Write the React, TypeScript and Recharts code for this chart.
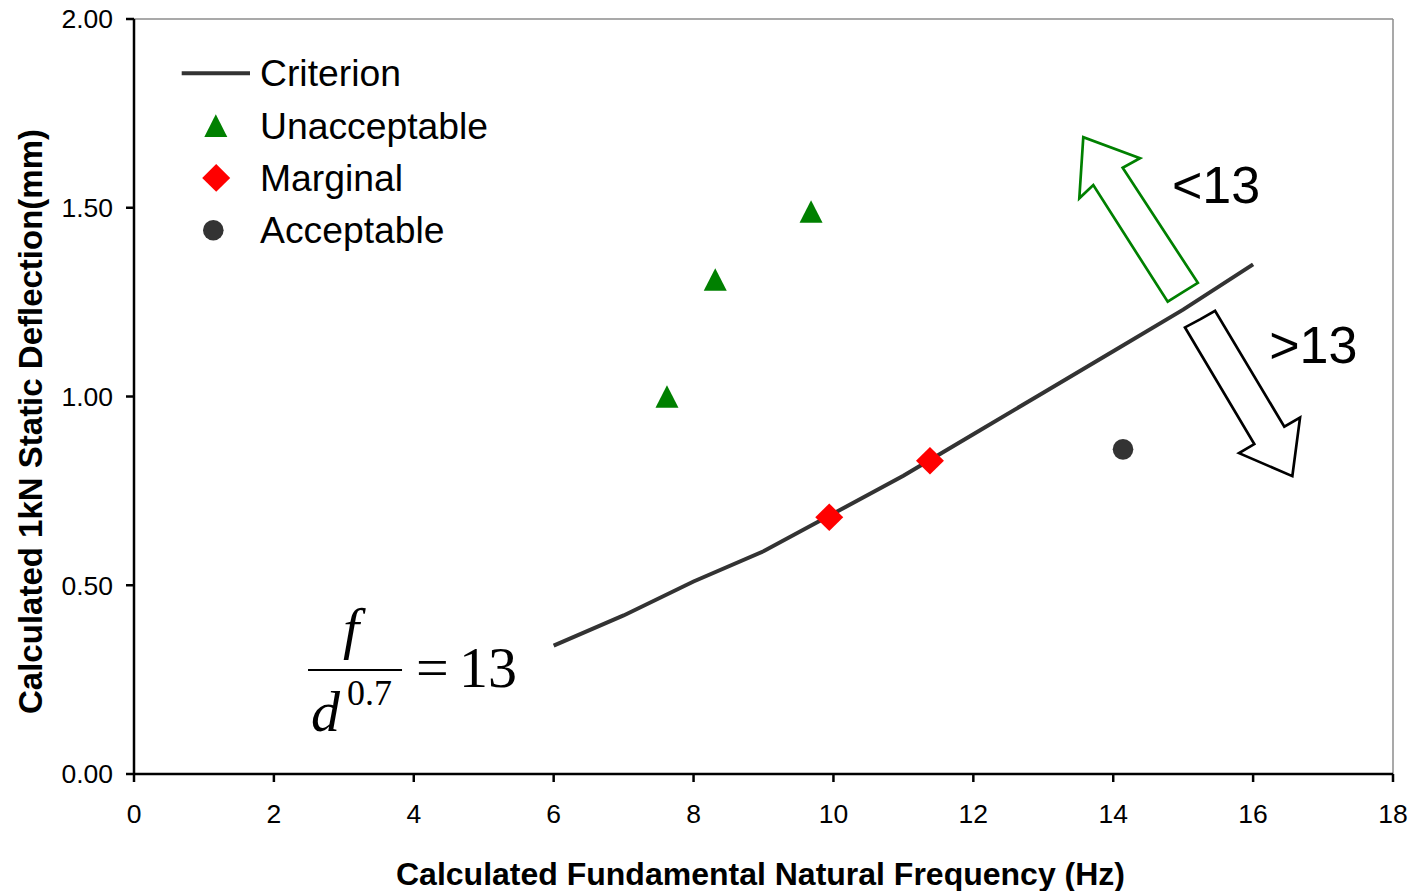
import React from 'react';
import {
  ComposedChart,
  Line,
  Scatter,
  XAxis,
  YAxis,
  ReferenceLine,
  ReferenceDot,
  Legend,
  Label,
} from 'recharts';

// ---------- data ----------
const xTicks = [0, 2, 4, 6, 8, 10, 12, 14, 16, 18];
const yTicks = [0, 0.5, 1.0, 1.5, 2.0];

const criterion = [
  { f: 6, d: 0.34 },
  { f: 7, d: 0.42 },
  { f: 8, d: 0.51 },
  { f: 9, d: 0.59 },
  { f: 10, d: 0.69 },
  { f: 11, d: 0.79 },
  { f: 12, d: 0.9 },
  { f: 13, d: 1.01 },
  { f: 14, d: 1.12 },
  { f: 15, d: 1.23 },
  { f: 16, d: 1.35 },
];

const unacceptable = [
  { f: 7.62, d: 1.0 },
  { f: 8.31, d: 1.31 },
  { f: 9.68, d: 1.49 },
];

const marginal = [
  { f: 9.94, d: 0.68 },
  { f: 11.38, d: 0.83 },
];

const acceptable = [{ f: 14.14, d: 0.86 }];

// outline arrows (annotation), vertices in data coordinates
const upArrow = [
  { f: 14.99, d: 1.276 },
  { f: 15.21, d: 1.301 },
  { f: 14.135, d: 1.606 },
  { f: 14.383, d: 1.631 },
  { f: 13.572, d: 1.687 },
  { f: 13.515, d: 1.525 },
  { f: 13.715, d: 1.56 },
  { f: 14.779, d: 1.251 },
  { f: 14.99, d: 1.276 },
];

const downArrow = [
  { f: 15.248, d: 1.205 },
  { f: 15.456, d: 1.227 },
  { f: 16.446, d: 0.92 },
  { f: 16.671, d: 0.944 },
  { f: 16.561, d: 0.789 },
  { f: 15.799, d: 0.85 },
  { f: 16.017, d: 0.874 },
  { f: 15.026, d: 1.183 },
  { f: 15.248, d: 1.205 },
];

const lessLabel = { f: 14.84, d: 1.513, text: '<13' };
const moreLabel = { f: 16.23, d: 1.089, text: '>13' };
const equationAnchor = { f: 3.16, d: 0.2755 };

const legendOrder = ['Criterion', 'Unacceptable', 'Marginal', 'Acceptable'];

// ---------- styles ----------
const SANS = '"Liberation Sans", Arial, Helvetica, sans-serif';
const SERIF = '"Liberation Serif", "Times New Roman", Times, serif';
const LINE_COLOR = '#333333';
const GREEN = '#008000';
const RED = '#ff0000';

// ---------- shapes ----------
const Triangle = (props: any) => {
  const { cx, cy, fill } = props;
  if (cx == null || cy == null) return null;
  return (
    <polygon
      points={`${cx},${cy - 11.3} ${cx + 11.5},${cy + 11.3} ${cx - 11.5},${cy + 11.3}`}
      fill={fill || GREEN}
    />
  );
};

const Diamond = (props: any) => {
  const { cx, cy, fill } = props;
  if (cx == null || cy == null) return null;
  return (
    <polygon
      points={`${cx},${cy - 13.8} ${cx + 14},${cy} ${cx},${cy + 13.8} ${cx - 14},${cy}`}
      fill={fill || RED}
    />
  );
};

const Dot = (props: any) => {
  const { cx, cy, fill } = props;
  if (cx == null || cy == null) return null;
  return <circle cx={cx} cy={cy} r={10.3} fill={fill || LINE_COLOR} />;
};

const LegendContent = (props: any) => {
  const payload: any[] = props.payload || [];
  const items = legendOrder
    .map((n) => payload.find((p) => p.value === n))
    .filter(Boolean);
  return (
    <svg width={330} height={215} style={{ display: 'block', overflow: 'visible' }}>
      {items.map((it: any, i: number) => {
        const cy = 28.3 + i * 52.3;
        let icon: any = null;
        if (it.value === 'Criterion') {
          icon = <line x1={11.7} x2={80} y1={cy} y2={cy} stroke={LINE_COLOR} strokeWidth={4} />;
        } else if (it.value === 'Unacceptable') {
          icon = <Triangle cx={45.8} cy={cy} fill={GREEN} />;
        } else if (it.value === 'Marginal') {
          icon = <Diamond cx={46.2} cy={cy} fill={RED} />;
        } else {
          icon = <Dot cx={43.3} cy={cy} fill={LINE_COLOR} />;
        }
        return (
          <g key={it.value}>
            {icon}
            <text x={90} y={cy + 13} fontFamily={SANS} fontSize={37.3} fill="#000">
              {it.value}
            </text>
          </g>
        );
      })}
    </svg>
  );
};

const XTitle = (props: any) => {
  const vb = props.viewBox || {};
  return (
    <text
      x={vb.x + vb.width / 2 - 3}
      y={885}
      textAnchor="middle"
      fontFamily={SANS}
      fontWeight="bold"
      fontSize={32}
      fill="#000"
    >
      Calculated Fundamental Natural Frequency (Hz)
    </text>
  );
};

const YTitle = (props: any) => {
  const vb = props.viewBox || {};
  const cx = 42;
  const cy = vb.y + vb.height / 2 + 25;
  return (
    <text
      x={cx}
      y={cy}
      transform={`rotate(-90, ${cx}, ${cy})`}
      textAnchor="middle"
      fontFamily={SANS}
      fontWeight="bold"
      fontSize={33}
      fill="#000"
    >
      Calculated 1kN Static Deflection(mm)
    </text>
  );
};

const Equation = (props: any) => {
  const { cx, cy } = props;
  if (cx == null || cy == null) return null;
  return (
    <g fontFamily={SERIF} fill="#000">
      <text x={cx - 4} y={cy - 22} fontSize={58} fontStyle="italic" textAnchor="middle">
        f
      </text>
      <line x1={cx - 47} x2={cx + 47} y1={cy} y2={cy} stroke="#000" strokeWidth={2} />
      <text x={cx - 44} y={cy + 61} fontSize={58} fontStyle="italic">
        d
      </text>
      <text x={cx - 8} y={cy + 35} fontSize={36}>
        0.7
      </text>
      <text x={cx + 61} y={cy + 17} fontSize={58}>
        =
      </text>
      <text x={cx + 104} y={cy + 17} fontSize={58}>
        13
      </text>
    </g>
  );
};

const makeTextShape = (text: string) => (props: any) => {
  const { cx, cy } = props;
  if (cx == null || cy == null) return null;
  return (
    <text x={cx} y={cy} fontFamily={SANS} fontSize={52} fill="#000">
      {text}
    </text>
  );
};

const LessShape = makeTextShape(lessLabel.text);
const MoreShape = makeTextShape(moreLabel.text);

export default function App() {
  return (
    <div style={{ position: 'absolute', left: 0, top: 0, width: 1416, height: 891, background: '#fff' }}>
      <ComposedChart
        width={1416}
        height={891}
        margin={{ top: 19, right: 23, left: 0, bottom: 0 }}
      >
        <XAxis
          type="number"
          dataKey="f"
          domain={[0, 18]}
          ticks={xTicks}
          interval={0}
          allowDataOverflow
          height={117}
          tickSize={8}
          tickMargin={22}
          axisLine={{ stroke: '#000', strokeWidth: 2.5 }}
          tickLine={{ stroke: '#000', strokeWidth: 2.5 }}
          tick={{ fill: '#000', fontSize: 26.5, fontFamily: SANS }}
        >
          <Label content={<XTitle />} />
        </XAxis>
        <YAxis
          type="number"
          dataKey="d"
          domain={[0, 2]}
          ticks={yTicks}
          interval={0}
          allowDataOverflow
          width={134}
          tickSize={8}
          tickMargin={13}
          tickFormatter={(v: number) => v.toFixed(2)}
          axisLine={{ stroke: '#000', strokeWidth: 2.5 }}
          tickLine={{ stroke: '#000', strokeWidth: 2.5 }}
          tick={{ fill: '#000', fontSize: 26.5, fontFamily: SANS }}
        >
          <Label content={<YTitle />} />
        </YAxis>

        <ReferenceLine y={2} stroke="#8c8c8c" strokeWidth={1.5} />
        <ReferenceLine x={18} stroke="#8c8c8c" strokeWidth={1.5} />

        <Line
          data={criterion}
          dataKey="d"
          name="Criterion"
          type="linear"
          stroke={LINE_COLOR}
          strokeWidth={4}
          dot={false}
          activeDot={false}
          isAnimationActive={false}
        />
        <Line
          data={upArrow}
          dataKey="d"
          name="up"
          type="linear"
          stroke={GREEN}
          strokeWidth={2.7}
          strokeLinejoin="miter"
          dot={false}
          activeDot={false}
          legendType="none"
          isAnimationActive={false}
        />
        <Line
          data={downArrow}
          dataKey="d"
          name="down"
          type="linear"
          stroke="#000"
          strokeWidth={2.7}
          strokeLinejoin="miter"
          dot={false}
          activeDot={false}
          legendType="none"
          isAnimationActive={false}
        />
        <Scatter
          data={unacceptable}
          name="Unacceptable"
          fill={GREEN}
          shape={<Triangle />}
          isAnimationActive={false}
        />
        <Scatter
          data={marginal}
          name="Marginal"
          fill={RED}
          shape={<Diamond />}
          isAnimationActive={false}
        />
        <Scatter
          data={acceptable}
          name="Acceptable"
          fill={LINE_COLOR}
          shape={<Dot />}
          isAnimationActive={false}
        />

        <ReferenceDot x={lessLabel.f} y={lessLabel.d} shape={<LessShape />} />
        <ReferenceDot x={moreLabel.f} y={moreLabel.d} shape={<MoreShape />} />
        <ReferenceDot x={equationAnchor.f} y={equationAnchor.d} shape={<Equation />} />

        <Legend
          layout="vertical"
          align="center"
          verticalAlign="middle"
          content={<LegendContent />}
          wrapperStyle={{ position: 'absolute', left: 170, top: 45, width: 330, height: 215 }}
        />
      </ComposedChart>
    </div>
  );
}
